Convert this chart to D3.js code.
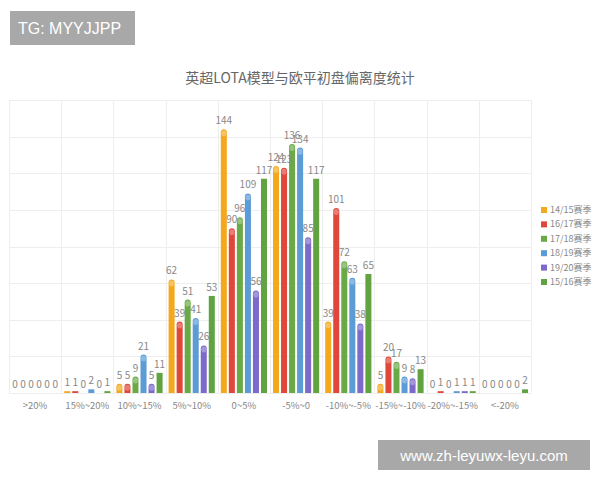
<!DOCTYPE html>
<html>
<head>
<meta charset="utf-8">
<script src="https://cdn.jsdelivr.net/npm/d3@7"></script>
<style>
  body { margin: 0; background: #fff; }
  svg { display: block; font-family: "Noto Sans CJK SC", "Noto Sans", sans-serif; }
</style>
</head>
<body>
<script>
const categories = [">20%", "15%~20%", "10%~15%", "5%~10%", "0~5%", "-5%~0", "-10%~-5%", "-15%~-10%", "-20%~-15%", "<-20%"]
const seasons = ["14/15赛季", "16/17赛季", "17/18赛季", "18/19赛季", "19/20赛季", "15/16赛季"]
const s1415 = [0, 1, 5, 62, 144, 124, 39, 5, 0, 0]
const s1617 = [0, 1, 5, 39, 90, 123, 101, 20, 1, 0]
const s1718 = [0, 0, 9, 51, 96, 136, 72, 17, 0, 0]
const s1819 = [0, 2, 21, 41, 109, 134, 63, 9, 1, 0]
const s1920 = [0, 0, 5, 26, 56, 85, 38, 8, 1, 0]
const s1516 = [0, 1, 11, 53, 117, 117, 65, 13, 1, 2]
const yTicks = [0, 20, 40, 60, 80, 100, 120, 140, 160]

const series = [s1415, s1617, s1718, s1819, s1920, s1516]
const colors = ["#f4a81d", "#e0463a", "#6aaa46", "#5b9bd6", "#7d69c9", "#60a340"]
const rounded = [true, true, true, true, true, false]

const width = 600
const height = 480
const margin = { top: 100, right: 69, bottom: 87, left: 9 }

const svg = d3.select("body")
    .append("svg")
    .attr("width", width)
    .attr("height", height)

const x = d3.scaleBand()
    .domain(categories)
    .range([margin.left, width - margin.right])

const x1 = d3.scaleBand()
    .domain(d3.range(seasons.length))
    .range([3, x.bandwidth() - 3])
    .paddingInner(0.25)

const y = d3.scaleLinear()
    .domain([0, 160])
    .range([height - margin.bottom, margin.top])

// grid
const grid = svg.append("g").attr("stroke", "#eeeeee").attr("stroke-width", 1)
grid.selectAll("line.h")
    .data(yTicks)
    .join("line")
    .attr("x1", margin.left)
    .attr("x2", width - margin.right)
    .attr("y1", (d) => Math.round(y(d)) + 0.5)
    .attr("y2", (d) => Math.round(y(d)) + 0.5)
grid.selectAll("line.v")
    .data(categories.concat(["end"]))
    .join("line")
    .attr("x1", (d, i) => Math.round(margin.left + i * x.bandwidth()) + 0.5)
    .attr("x2", (d, i) => Math.round(margin.left + i * x.bandwidth()) + 0.5)
    .attr("y1", margin.top)
    .attr("y2", y(0))

// title
svg.append("text")
    .attr("x", 300)
    .attr("y", 83)
    .attr("text-anchor", "middle")
    .attr("font-size", 14)
    .attr("fill", "#666")
    .text("英超LOTA模型与欧平初盘偏离度统计")

// bars
const rows = []
series.forEach((vals, si) => {
    vals.forEach((v, ci) => rows.push({ si, ci, v }))
})

const bw = x1.bandwidth()
const barPath = (d) => {
    const x0 = x(categories[d.ci]) + x1(d.si)
    const y0 = y(0)
    const yt = y(d.v)
    const h = y0 - yt
    if (h <= 0) return ""
    if (!rounded[d.si] || h < bw) {
        return `M${x0},${y0}V${yt}H${x0 + bw}V${y0}Z`
    }
    const r = bw / 2
    return `M${x0},${y0}V${yt + r}A${r},${r} 0 0 1 ${x0 + bw},${yt + r}V${y0}Z`
}

svg.append("g")
    .selectAll("path")
    .data(rows.filter((d) => d.v > 0))
    .join("path")
    .attr("d", barPath)
    .attr("fill", (d) => colors[d.si])

// light cap on the rounded bars
svg.append("g")
    .selectAll("ellipse")
    .data(rows.filter((d) => d.v > 0 && rounded[d.si] && y(0) - y(d.v) >= bw))
    .join("ellipse")
    .attr("cx", (d) => x(categories[d.ci]) + x1(d.si) + bw / 2)
    .attr("cy", (d) => y(d.v) + bw / 2 + 1)
    .attr("rx", bw / 2 - 0.5)
    .attr("ry", bw / 2)
    .attr("fill", "#fff")
    .attr("fill-opacity", 0.3)

// value labels
svg.append("g")
    .attr("font-size", 10)
    .attr("fill", "#888")
    .attr("text-anchor", "middle")
    .selectAll("text")
    .data(rows)
    .join("text")
    .attr("x", (d) => x(categories[d.ci]) + x1(d.si) + bw / 2)
    .attr("y", (d) => y(d.v) - 5)
    .text((d) => d.v)

// x axis labels
svg.append("g")
    .attr("font-size", 9.5)
    .attr("fill", "#888")
    .attr("text-anchor", "middle")
    .selectAll("text")
    .data(categories)
    .join("text")
    .attr("x", (d) => x(d) + x.bandwidth() / 2)
    .attr("y", 409)
    .text((d) => d)

// legend
const legend = svg.append("g")
    .selectAll("g")
    .data(seasons)
    .join("g")
    .attr("transform", (d, i) => `translate(541, ${212 + i * 14.4})`)
legend.append("rect")
    .attr("width", 6)
    .attr("height", 6)
    .attr("y", -5)
    .attr("fill", (d, i) => colors[i])
legend.append("text")
    .attr("x", 9)
    .attr("y", 1)
    .attr("font-size", 9)
    .attr("fill", "#888")
    .text((d) => d)

// watermark boxes
svg.append("rect").attr("x", 10).attr("y", 11).attr("width", 125).attr("height", 34).attr("fill", "#a8a8a8")
svg.append("text")
    .attr("x", 18).attr("y", 34)
    .attr("font-family", "Liberation Sans, Arial, sans-serif")
    .attr("font-size", 16).attr("fill", "#fff")
    .text("TG: MYYJJPP")
svg.append("rect").attr("x", 378).attr("y", 440).attr("width", 212).attr("height", 30).attr("fill", "#a8a8a8")
svg.append("text")
    .attr("x", 484).attr("y", 461)
    .attr("text-anchor", "middle")
    .attr("font-family", "Liberation Sans, Arial, sans-serif")
    .attr("font-size", 15).attr("fill", "#fff")
    .text("www.zh-leyuwx-leyu.com")
</script>
</body>
</html>
